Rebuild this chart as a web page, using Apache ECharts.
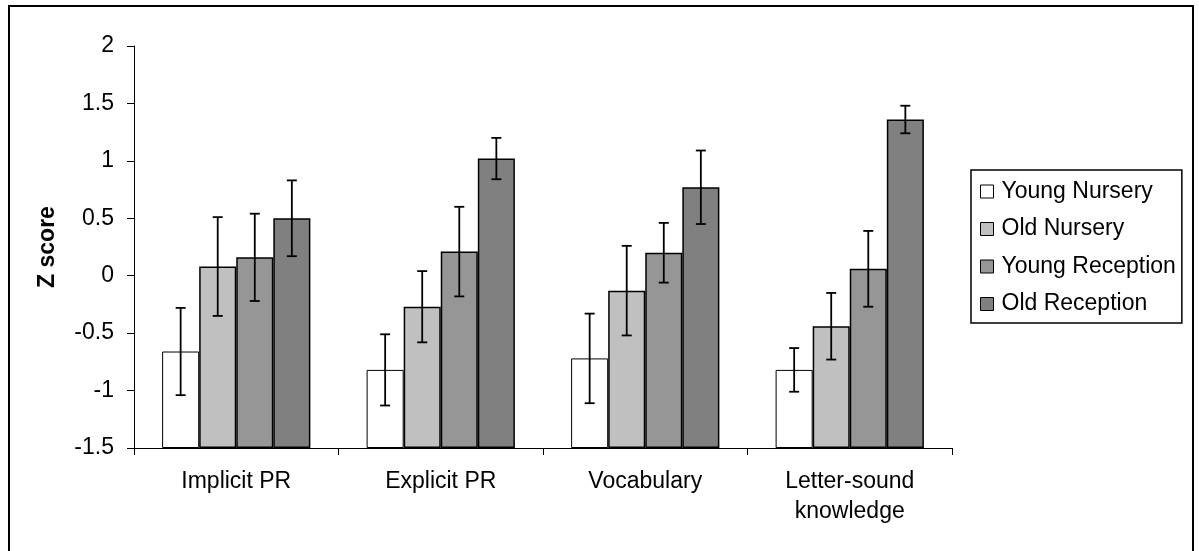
<!DOCTYPE html>
<html>
<head>
<meta charset="utf-8">
<script src="https://cdn.jsdelivr.net/npm/echarts@6/dist/echarts.min.js"></script>
<style>
  html, body { margin: 0; padding: 0; background: #fff; }
  #chart { width: 1199px; height: 551px; }
</style>
</head>
<body>
<div id="chart"></div>
<script>
// Measures on the category axis
const categories = ['Implicit PR', 'Explicit PR', 'Vocabulary', 'Letter-sound\nknowledge'];
// Age groups (one bar each per measure)
const groups = ['Young Nursery', 'Old Nursery', 'Young Reception', 'Old Reception'];

// Mean z scores
const youngNursery   = [-0.66, -0.82, -0.72, -0.82];
const oldNursery     = [ 0.08, -0.27, -0.13, -0.44];
const youngReception = [ 0.16,  0.21,  0.20,  0.06];
const oldReception   = [ 0.50,  1.02,  0.77,  1.36];

// Error bar half-lengths
const errYoungNursery   = [0.38, 0.31, 0.39, 0.19];
const errOldNursery     = [0.43, 0.31, 0.39, 0.29];
const errYoungReception = [0.38, 0.39, 0.26, 0.33];
const errOldReception   = [0.33, 0.18, 0.32, 0.12];

// Value axis range and tick step
const Y_MIN = -1.5;
const Y_MAX = 2;
const Y_STEP = 0.5;

const means = [youngNursery, oldNursery, youngReception, oldReception];
const errs = [errYoungNursery, errOldNursery, errYoungReception, errOldReception];
const fills = ['#ffffff', '#c0c0c0', '#969696', '#808080'];
const FONT = '"Liberation Sans", Arial, sans-serif';
const CAT_GAP = 0.275;

// Bars rise from the bottom of the value axis, so values are measured from Y_MIN
const lift = v => v - Y_MIN;

const barSeries = groups.map((name, k) => ({
  name: name,
  type: 'bar',
  data: means[k].map(lift),
  barGap: '0%',
  barCategoryGap: (CAT_GAP * 100) + '%',
  itemStyle: {
    color: fills[k],
    borderColor: '#000',
    borderWidth: k === 0 ? 1 : 1.5
  },
  emphasis: { disabled: true },
  animation: false
}));

const errData = [];
groups.forEach((g, k) => {
  categories.forEach((c, i) => {
    errData.push([i, k, lift(means[k][i] - errs[k][i]), lift(means[k][i] + errs[k][i])]);
  });
});

const errSeries = {
  type: 'custom',
  data: errData,
  z: 10,
  silent: true,
  animation: false,
  renderItem: function (params, api) {
    const cat = api.value(0);
    const k = api.value(1);
    const lo = api.coord([cat, api.value(2)]);
    const hi = api.coord([cat, api.value(3)]);
    const catW = api.size([1, 0])[0];
    const barW = catW * (1 - CAT_GAP) / groups.length;
    const x = lo[0] + (k - (groups.length - 1) / 2) * barW;
    const cap = 5;
    const style = { stroke: '#000', lineWidth: 1.8 };
    return {
      type: 'group',
      children: [
        { type: 'line', shape: { x1: x, y1: lo[1], x2: x, y2: hi[1] }, style: style },
        { type: 'line', shape: { x1: x - cap, y1: lo[1], x2: x + cap, y2: lo[1] }, style: style },
        { type: 'line', shape: { x1: x - cap, y1: hi[1], x2: x + cap, y2: hi[1] }, style: style }
      ]
    };
  }
};

const chart = echarts.init(document.getElementById('chart'), null, { renderer: 'canvas' });
chart.setOption({
  backgroundColor: '#fff',
  animation: false,
  textStyle: { fontFamily: FONT, color: '#000' },
  grid: { left: 134, right: 247, top: 46, bottom: 103, containLabel: false },
  legend: {
    data: groups,
    orient: 'vertical',
    left: 971,
    top: 170,
    icon: 'rect',
    itemWidth: 13,
    itemHeight: 13,
    itemGap: 14.5,
    padding: [10, 6, 7.5, 9],
    borderColor: '#000',
    borderWidth: 1.5,
    selectedMode: false,
    itemStyle: { borderColor: '#000', borderWidth: 1 },
    textStyle: { fontSize: 23, lineHeight: 23, color: '#000', fontFamily: FONT, padding: [0, 0, 0, 3] }
  },
  xAxis: {
    type: 'category',
    data: categories,
    axisLine: { lineStyle: { color: '#000', width: 1 } },
    axisTick: { show: true, length: 7, interval: 0, lineStyle: { color: '#000', width: 1 } },
    axisLabel: { fontSize: 23, lineHeight: 30, color: '#000', margin: 19, interval: 0, fontFamily: FONT },
    splitLine: { show: false }
  },
  yAxis: {
    type: 'value',
    min: lift(Y_MIN),
    max: lift(Y_MAX),
    interval: Y_STEP,
    name: 'Z score',
    nameLocation: 'middle',
    nameRotate: 90,
    nameGap: 75,
    nameTextStyle: { fontSize: 23, fontWeight: 'bold', color: '#000', fontFamily: FONT },
    axisLine: { show: true, lineStyle: { color: '#000', width: 1 } },
    axisTick: { show: true, length: 7, lineStyle: { color: '#000', width: 1 } },
    axisLabel: {
      fontSize: 23, color: '#000', margin: 20, fontFamily: FONT,
      formatter: v => String(Math.round((v + Y_MIN) * 10) / 10)
    },
    splitLine: { show: false }
  },
  graphic: [{
    type: 'rect',
    shape: { x: 9, y: 6, width: 1184, height: 560 },
    style: { fill: 'none', stroke: '#000', lineWidth: 2 },
    silent: true,
    z: 100
  }],
  series: barSeries.concat([errSeries])
});
</script>
</body>
</html>
